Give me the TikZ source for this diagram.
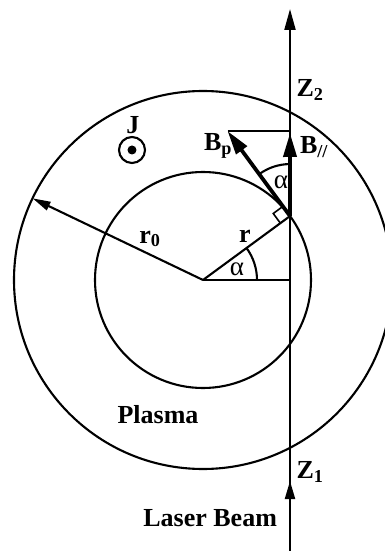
\documentclass[tikz,border=0pt]{standalone}
\usepackage{fontspec}
\setmainfont{Liberation Serif}
\usetikzlibrary{arrows.meta, calc}

\begin{document}
\begin{tikzpicture}[x=1pt, y=1pt, >=Triangle, line width=2.1pt,
    lbl/.style={inner sep=0pt, font=\fontsize{26}{30}\selectfont\bfseries},
    ang/.style={inner sep=0pt, font=\fontsize{27}{30}\selectfont}]
    \useasboundingbox (-203,-271) rectangle (182,280);
    \coordinate (O) at (0,0);
    \coordinate (P) at (36.3:108);
    \coordinate (H) at (87,0);
    \coordinate (top) at (87,271);
    \coordinate (bot) at (87,-271);
    \coordinate (mid) at (87,-201);
    \coordinate (par) at (87,147);
    \coordinate (perp) at (24.5,149);
    \coordinate (edge) at (154.4:189);
    % plasma and beam
    \draw (O) circle (189);
    \draw (O) circle (108);
    \draw[-{Triangle[length=21pt, width=11pt]}] (bot) -- (top);
    \draw[-{Triangle[length=18pt, width=10pt]}] (bot) -- (mid);
    \draw[-{Triangle[length=18pt, width=9pt]}] (O) -- (edge);
    \draw (O) -- (H);
    \draw (O) -- (P);
    \draw (perp) -- (87,149);
    \draw[line width=3.8pt, -{Triangle[length=24pt, width=13pt]}] (P) -- (par);
    \draw[line width=3.8pt, -{Triangle[length=24pt, width=13pt]}] (P) -- (perp);
    \draw[line width=1.6pt] ($(P)+(216.3:12)$) -- ++(126.3:12) -- ++(36.3:12);
    \draw (54,0) arc (0:36.3:54);
    \draw ($(P)+(0,52)$) arc (90:126.3:52);
    % current
    \node[draw, circle, minimum size=26pt, inner sep=0pt] (cur) at (-71,130) {};
    \fill (cur.center) circle (4.5);
    \node[lbl] (J) at (-70,155) {J};
    % labels
    \node[lbl] (Z2) at (107,190) {Z\textsubscript{2}};
    \node[lbl] (Z1) at (107,-192) {Z\textsubscript{1}};
    \node[lbl] (Bpar) at (111,133) {B\textsubscript{//}};
    \node[lbl] (Bp) at (15,134) {B\textsubscript{p}};
    \node[lbl] (r) at (42,44) {r};
    \node[lbl] (r0) at (-53,41) {r\textsubscript{0}};
    \node[ang] (a1) at (34,11) {α};
    \node[ang] (a2) at (78,98) {α};
    \node[lbl] (plasma) at (-45,-135) {Plasma};
    \node[lbl, anchor=east] (laser) at (75,-238) {Laser Beam};
\end{tikzpicture}
\end{document}
